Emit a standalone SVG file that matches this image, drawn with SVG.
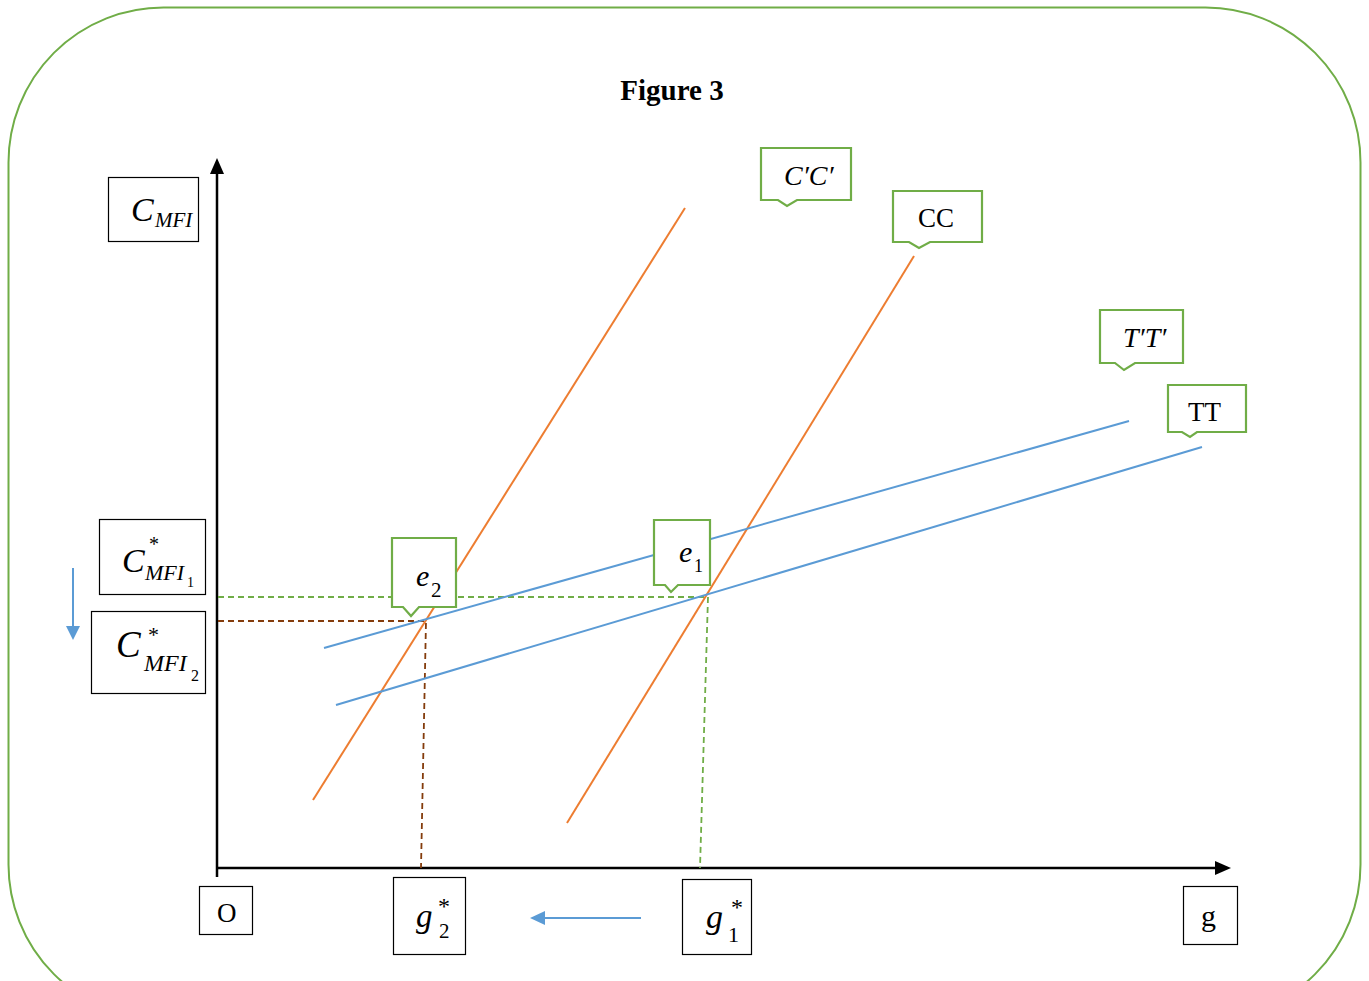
<svg xmlns="http://www.w3.org/2000/svg" width="1369" height="981" viewBox="0 0 1369 981">
  <style>
    .t { font-family: "Liberation Serif", "Times New Roman", serif; fill: #000; }
    .i { font-style: italic; }
    .box { fill: #fff; stroke: #000; stroke-width: 1.2; }
    .call { fill: #fff; stroke: #70AD47; stroke-width: 2.2; stroke-linejoin: miter; }
    .cc { stroke: #ED7D31; stroke-width: 2; fill: none; }
    .tt { stroke: #5B9BD5; stroke-width: 2; fill: none; }
    .gd { stroke: #70AD47; stroke-width: 1.8; stroke-dasharray: 6 4; fill: none; }
    .bd { stroke: #843C0C; stroke-width: 1.8; stroke-dasharray: 6 4; fill: none; }
    .ax { stroke: #000; stroke-width: 2.5; fill: none; }
    .arr { stroke: #5B9BD5; stroke-width: 2; fill: none; }
  </style>

  <!-- frame -->
  <rect x="8.5" y="7.5" width="1352" height="1012" rx="155" ry="155" fill="#fff" stroke="#70AD47" stroke-width="2"/>

  <!-- title -->
  <text class="t" x="672" y="100" font-size="29" font-weight="bold" text-anchor="middle">Figure 3</text>

  <!-- axes -->
  <g id="axes">
    <line class="ax" x1="217" y1="877" x2="217" y2="172"/>
    <polygon points="217,158 210,174 224,174" fill="#000"/>
    <line class="ax" x1="217" y1="868" x2="1216" y2="868"/>
    <polygon points="1231,868 1215,861 1215,875" fill="#000"/>
  </g>

  <g id="connectors">
    <!-- equilibrium guides -->
    <polyline class="gd" points="218,597 708,597 700,868"/>
    <polyline class="bd" points="218,621 426,621 421,868"/>
    <!-- CC curves -->
    <line class="cc" x1="313" y1="800" x2="685" y2="208"/>
    <line class="cc" x1="567" y1="823" x2="914" y2="256"/>
    <!-- TT curves -->
    <line class="tt" x1="324" y1="648" x2="1129" y2="421"/>
    <line class="tt" x1="336" y1="705" x2="1202" y2="447"/>
    <!-- shift arrows -->
    <line class="arr" x1="73" y1="568" x2="73" y2="628"/>
    <polygon points="73,640 66,626 80,626" fill="#5B9BD5"/>
    <line class="arr" x1="641" y1="918" x2="543" y2="918"/>
    <polygon points="530,918 545,911 545,925" fill="#5B9BD5"/>
  </g>

  <!-- axis label boxes -->
  <g id="cmfi">
    <rect class="box" x="108.5" y="177.5" width="90" height="64"/>
    <text class="t i" x="131" y="221" font-size="34">C</text>
    <text class="t i" x="155" y="227" font-size="21">MFI</text>
  </g>
  <g id="cmfi1">
    <rect class="box" x="99.5" y="519.5" width="106" height="75"/>
    <text class="t i" x="122" y="572" font-size="34">C</text>
    <text class="t" x="149" y="551" font-size="20">*</text>
    <text class="t i" x="145" y="580" font-size="22">MFI</text>
    <text class="t" x="187" y="587" font-size="14">1</text>
  </g>
  <g id="cmfi2">
    <rect class="box" x="91.5" y="611.5" width="114" height="82"/>
    <text class="t i" x="116" y="657" font-size="37">C</text>
    <text class="t" x="148" y="642" font-size="22">*</text>
    <text class="t i" x="144" y="671" font-size="24">MFI</text>
    <text class="t" x="191" y="681" font-size="16">2</text>
  </g>
  <g id="origin">
    <rect class="box" x="199.5" y="886.5" width="53" height="48"/>
    <text class="t" x="217" y="922" font-size="27">O</text>
  </g>
  <g id="g2star">
    <rect class="box" x="393.5" y="877.5" width="72" height="77"/>
    <text class="t i" x="416" y="927" font-size="33">g</text>
    <text class="t" x="438" y="914" font-size="24">*</text>
    <text class="t" x="439" y="938" font-size="21">2</text>
  </g>
  <g id="g1star">
    <rect class="box" x="682.5" y="879.5" width="69" height="75"/>
    <text class="t i" x="706" y="928" font-size="34">g</text>
    <text class="t" x="731" y="915" font-size="24">*</text>
    <text class="t" x="728" y="942" font-size="22">1</text>
  </g>
  <g id="gaxis">
    <rect class="box" x="1183.5" y="886.5" width="54" height="58"/>
    <text class="t" x="1201" y="926" font-size="30">g</text>
  </g>

  <!-- callouts -->
  <g id="lbl-ccp">
    <path class="call" d="M761,148 H851 V200 H797 L787,206 L778,200 H761 Z"/>
    <text class="t i" x="784" y="185" font-size="28">C′C′</text>
  </g>
  <g id="lbl-cc">
    <path class="call" d="M893,191 H982 V242 H930 L919,248 L909,242 H893 Z"/>
    <text class="t" x="918" y="227" font-size="27">CC</text>
  </g>
  <g id="lbl-ttp">
    <path class="call" d="M1100,310 H1183 V363 H1135 L1124,370 L1115,363 H1100 Z"/>
    <text class="t i" x="1123" y="347" font-size="28">T′T′</text>
  </g>
  <g id="lbl-tt">
    <path class="call" d="M1168,385 H1246 V432 H1197 L1190,437 L1182,432 H1168 Z"/>
    <text class="t" x="1188" y="421" font-size="27">TT</text>
  </g>
  <g id="lbl-e2">
    <path class="call" d="M392,538 H456 V607 H419 L411,616 L403,607 H392 Z"/>
    <text class="t i" x="416" y="586" font-size="30">e</text>
    <text class="t" x="431" y="597" font-size="21">2</text>
  </g>
  <g id="lbl-e1">
    <path class="call" d="M654,520 H710 V585 H678 L671,592 L665,585 H654 Z"/>
    <text class="t i" x="679" y="562" font-size="30">e</text>
    <text class="t" x="694" y="572" font-size="18">1</text>
  </g>
</svg>
